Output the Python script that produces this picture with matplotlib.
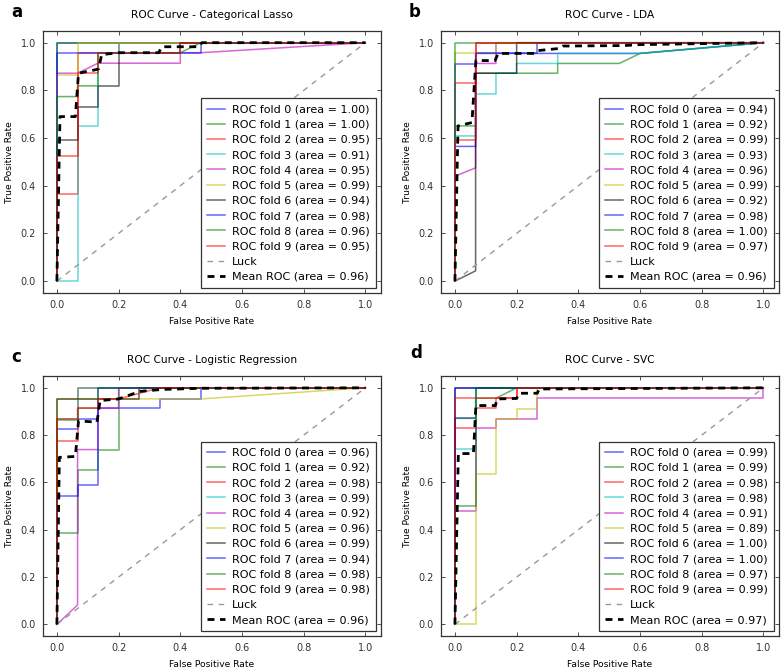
import matplotlib.pyplot as plt

# ---- data (fpr / tpr per fold, legend AUCs, mean curve) ----
lasso_fpr = [
    [0, 0, 1],
    [0, 0, 1],
    [0, 0, 0.067, 0.067, 0.2, 0.2, 1],
    [0, 0.067, 0.067, 0.133, 0.133, 0.2, 0.2, 1],
    [0, 0, 0.067, 0.133, 0.4, 0.4, 0.467, 1],
    [0, 0, 0.067, 0.067, 1],
    [0, 0, 0.067, 0.067, 0.133, 0.133, 0.2, 0.2, 0.4, 0.4, 1],
    [0, 0, 0.467, 0.467, 1],
    [0, 0, 0.067, 0.067, 0.133, 0.133, 0.4, 0.467, 1],
    [0, 0, 0.067, 0.067, 0.133, 0.133, 0.4, 0.4, 1],
]
lasso_tpr = [
    [0, 1, 1],
    [0, 1, 1],
    [0, 0.365, 0.365, 0.958, 0.958, 1, 1],
    [0, 0, 0.651, 0.651, 0.958, 0.958, 1, 1],
    [0, 0.872, 0.872, 0.914, 0.914, 0.958, 0.958, 1],
    [0, 0.865, 0.865, 1, 1],
    [0, 0.593, 0.593, 0.729, 0.729, 0.819, 0.819, 0.958, 0.958, 1, 1],
    [0, 0.958, 0.958, 1, 1],
    [0, 0.774, 0.774, 0.819, 0.819, 0.958, 0.958, 1, 1],
    [0, 0.523, 0.523, 0.872, 0.872, 0.958, 0.958, 1, 1],
]
lasso_auc = [1.00, 1.00, 0.95, 0.91, 0.95, 0.99, 0.94, 0.98, 0.96, 0.95]
lasso_mean_fpr = [0, 0.01, 0.06, 0.07, 0.12, 0.135, 0.145, 0.2, 0.33, 0.34, 0.46, 0.47, 1.0]
lasso_mean_tpr = [0, 0.69, 0.69, 0.872, 0.885, 0.89, 0.95, 0.958, 0.958, 0.983, 0.983, 1.0, 1.0]
lasso_mean_auc = 0.96

lda_fpr = [
    [0, 0, 0.067, 0.067, 0.6, 1],
    [0, 0, 0.067, 0.067, 0.333, 0.333, 0.533, 0.6, 1],
    [0, 0, 0.067, 0.067, 1],
    [0, 0, 0.067, 0.067, 0.133, 0.133, 0.2, 0.2, 0.333, 0.333, 0.6, 1],
    [0, 0, 0.067, 0.067, 0.133, 0.133, 1],
    [0, 0, 0.133, 0.133, 1],
    [0, 0.067, 0.067, 0.2, 0.2, 1],
    [0, 0, 0.067, 0.067, 0.267, 0.267, 1],
    [0, 0, 1],
    [0, 0, 0.067, 0.067, 1],
]
lda_tpr = [
    [0, 0.565, 0.565, 0.955, 0.955, 1],
    [0, 0.651, 0.651, 0.872, 0.872, 0.913, 0.913, 0.955, 1],
    [0, 0.83, 0.83, 1, 1],
    [0, 0.609, 0.609, 0.785, 0.785, 0.872, 0.872, 0.913, 0.913, 0.955, 0.955, 1],
    [0, 0.44, 0.475, 0.913, 0.913, 1, 1],
    [0, 0.955, 0.955, 1, 1],
    [0, 0.043, 0.872, 0.872, 1, 1],
    [0, 0.911, 0.911, 0.955, 0.955, 1, 1],
    [0, 1, 1],
    [0, 0.593, 0.593, 1, 1],
]
lda_auc = [0.94, 0.92, 0.99, 0.93, 0.96, 0.99, 0.92, 0.98, 1.00, 0.97]
lda_mean_fpr = [0, 0.01, 0.055, 0.068, 0.13, 0.14, 0.26, 0.27, 0.34, 0.35, 0.55, 0.6, 1.0]
lda_mean_tpr = [0, 0.651, 0.665, 0.925, 0.925, 0.955, 0.955, 0.967, 0.976, 0.986, 0.988, 0.992, 1.0]
lda_mean_auc = 0.96

logreg_fpr = [
    [0, 0, 0.067, 0.067, 0.133, 0.133, 0.333, 0.333, 0.467, 0.467, 1],
    [0, 0, 0.067, 0.067, 0.133, 0.133, 0.2, 0.2, 1],
    [0, 0, 0.067, 0.067, 1],
    [0, 0, 0.067, 0.067, 1],
    [0, 0.067, 0.067, 0.133, 0.133, 0.2, 0.2, 1],
    [0, 0, 0.467, 1],
    [0, 0, 0.267, 0.267, 1],
    [0, 0, 0.067, 0.067, 0.133, 0.133, 1],
    [0, 0, 0.067, 0.067, 0.133, 0.133, 1],
    [0, 0, 0.067, 0.067, 0.133, 0.133, 0.2, 0.333, 1],
]
logreg_tpr = [
    [0, 0.826, 0.826, 0.869, 0.869, 0.914, 0.914, 0.953, 0.953, 1, 1],
    [0, 0.388, 0.388, 0.653, 0.653, 0.739, 0.739, 1, 1],
    [0, 0.774, 0.774, 1, 1],
    [0, 0.869, 0.869, 1, 1],
    [0, 0.082, 0.739, 0.739, 0.914, 0.914, 1, 1],
    [0, 0.953, 0.953, 1],
    [0, 0.953, 0.953, 1, 1],
    [0, 0.544, 0.544, 0.589, 0.589, 1, 1],
    [0, 0.862, 0.862, 0.914, 0.914, 1, 1],
    [0, 0.869, 0.869, 0.914, 0.914, 0.953, 0.953, 1, 1],
]
logreg_auc = [0.96, 0.92, 0.98, 0.99, 0.92, 0.96, 0.99, 0.94, 0.98, 0.98]
logreg_mean_fpr = [0, 0.008, 0.06, 0.07, 0.13, 0.14, 0.2, 0.27, 0.34, 0.47, 1.0]
logreg_mean_tpr = [0, 0.706, 0.71, 0.86, 0.855, 0.946, 0.953, 0.985, 0.993, 0.998, 1.0]
logreg_mean_auc = 0.96

svc_fpr = [
    [0, 0, 0.067, 0.067, 1],
    [0, 0, 0.067, 0.067, 0.133, 0.2, 1],
    [0, 0, 0.067, 0.067, 0.133, 0.133, 0.2, 0.2, 1],
    [0, 0, 0.067, 0.067, 1],
    [0, 0, 0.067, 0.067, 0.133, 0.133, 0.267, 0.267, 1, 1],
    [0, 0.067, 0.067, 0.133, 0.133, 0.2, 0.2, 0.267, 0.267, 1],
    [0, 0, 1],
    [0, 0, 1],
    [0, 0, 0.067, 0.067, 1],
    [0, 0, 0.2, 0.2, 1],
]
svc_tpr = [
    [0, 0.871, 0.871, 1, 1],
    [0, 0.871, 0.871, 0.956, 0.956, 1, 1],
    [0, 0.828, 0.828, 0.915, 0.915, 0.956, 0.956, 1, 1],
    [0, 0.74, 0.74, 1, 1],
    [0, 0.478, 0.478, 0.828, 0.828, 0.868, 0.868, 0.956, 0.956, 1],
    [0, 0, 0.637, 0.637, 0.868, 0.868, 0.91, 0.91, 1, 1],
    [0, 1, 1],
    [0, 1, 1],
    [0, 0.502, 0.502, 1, 1],
    [0, 0.956, 0.956, 1, 1],
]
svc_auc = [0.99, 0.99, 0.98, 0.98, 0.91, 0.89, 1.00, 1.00, 0.97, 0.99]
svc_mean_fpr = [0, 0.011, 0.06, 0.068, 0.131, 0.137, 0.2, 0.208, 0.267, 0.273, 1.0]
svc_mean_tpr = [0, 0.722, 0.722, 0.925, 0.925, 0.953, 0.955, 0.977, 0.977, 0.995, 1.0]
svc_mean_auc = 0.97

titles = ["ROC Curve - Categorical Lasso", "ROC Curve - LDA",
          "ROC Curve - Logistic Regression", "ROC Curve - SVC"]
panel_letters = ["a", "b", "c", "d"]

# old matplotlib 'bgrcmyk' cycle
fold_colors = ["#0000ff", "#008000", "#ff0000", "#00bfbf", "#bf00bf",
               "#bfbf00", "#000000", "#0000ff", "#008000", "#ff0000"]


def plot_roc(ax, title, fprs, tprs, aucs, mean_fpr, mean_tpr, mean_auc):
    for i, (fpr, tpr) in enumerate(zip(fprs, tprs)):
        ax.plot(fpr, tpr, lw=1.1, color=fold_colors[i], alpha=0.6,
                label="ROC fold %d (area = %0.2f)" % (i, aucs[i]))
    ax.plot([0, 1], [0, 1], ls=(0, (4, 4)), lw=1, color=(0.6, 0.6, 0.6), label="Luck")
    ax.plot(mean_fpr, mean_tpr, "k", ls=(0, (2.5, 2)), lw=2,
            label="Mean ROC (area = %0.2f)" % mean_auc)
    ax.set_xlim(-0.045, 1.05)
    ax.set_ylim(-0.05, 1.05)
    ax.set_xticks([0, 0.2, 0.4, 0.6, 0.8, 1.0])
    ax.set_yticks([0, 0.2, 0.4, 0.6, 0.8, 1.0])
    ax.tick_params(direction="in", top=True, right=True, length=3, width=0.6,
                   labelsize=7, pad=5, colors="#333333")
    for s in ax.spines.values():
        s.set_color("#333333")
        s.set_linewidth(0.9)
    ax.set_title(title, fontsize=7.6, pad=9)
    ax.set_xlabel("False Positive Rate", fontsize=6.6, labelpad=5)
    ax.set_ylabel("True Positive Rate", fontsize=6.6, labelpad=5)
    leg = ax.legend(loc="lower right", fontsize=8, labelspacing=0.47,
                    handlelength=1.6, handletextpad=0.6, borderpad=0.55,
                    borderaxespad=0.45, fancybox=False, framealpha=1)
    leg.get_frame().set_edgecolor("#333333")
    leg.get_frame().set_linewidth(0.9)


fig = plt.figure(figsize=(7.82, 6.69), dpi=100)
positions = [
    [0.055, 0.562, 0.432, 0.392],
    [0.564, 0.562, 0.432, 0.392],
    [0.055, 0.049, 0.432, 0.389],
    [0.564, 0.049, 0.432, 0.389],
]
data = [
    (lasso_fpr, lasso_tpr, lasso_auc, lasso_mean_fpr, lasso_mean_tpr, lasso_mean_auc),
    (lda_fpr, lda_tpr, lda_auc, lda_mean_fpr, lda_mean_tpr, lda_mean_auc),
    (logreg_fpr, logreg_tpr, logreg_auc, logreg_mean_fpr, logreg_mean_tpr, logreg_mean_auc),
    (svc_fpr, svc_tpr, svc_auc, svc_mean_fpr, svc_mean_tpr, svc_mean_auc),
]
letter_xy = [(0.015, 0.982), (0.522, 0.982), (0.015, 0.466), (0.524, 0.472)]

for pos, title, d, letter, xy in zip(positions, titles, data, panel_letters, letter_xy):
    ax = fig.add_axes(pos)
    plot_roc(ax, title, *d)
    fig.text(xy[0], xy[1], letter, fontsize=12, fontweight="bold", va="center", ha="left")

fig.savefig("out.png", dpi=100)
